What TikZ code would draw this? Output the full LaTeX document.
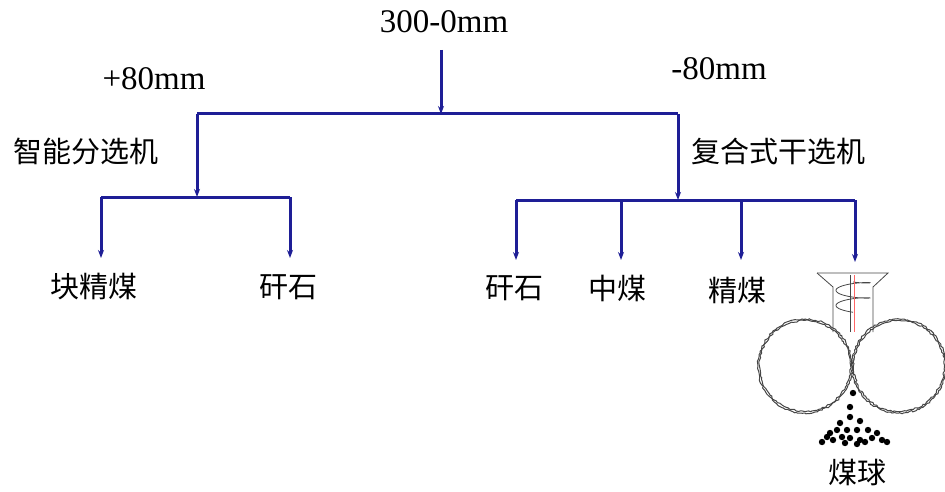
\documentclass[tikz,border=0pt]{standalone}
\usepackage{fontspec}
\setmainfont{Liberation Serif}
\newfontfamily\cjk{Noto Sans CJK SC}
\usetikzlibrary{arrows.meta,decorations.pathmorphing}
\definecolor{flowblue}{RGB}{30,30,150}
\definecolor{rollgray}{RGB}{70,70,70}

\begin{document}
\begin{tikzpicture}[x=1pt,y=-1pt,
    flow/.style={draw=flowblue,line width=3pt},
    feed/.style={flow,-{Stealth[length=8pt,width=6pt]}},
    size/.style={font=\fontsize{33}{34}\selectfont},
    lbl/.style={font=\cjk\fontsize{29}{30}\selectfont},
    roller/.style={draw=rollgray,line width=1pt,decorate,
      decoration={random steps,segment length=2.2pt,amplitude=0.9pt}},
    pellet/.style={fill=black}]
  \useasboundingbox (0,0) rectangle (945,492);

  \node[size] (feedsize) at (444,22) {300-0mm};
  \node[size] (coarse) at (154,79) {+80mm};
  \node[size] (fine) at (719,69) {-80mm};
  \node[lbl] (smart) at (86,151) {智能分选机};
  \node[lbl] (dry) at (778,151) {复合式干选机};

  \coordinate (top) at (441,50);
  \coordinate (split) at (441,114);
  \coordinate (lj) at (197,114);
  \coordinate (rj) at (678,114);
  \coordinate (lsplit) at (197,197);
  \coordinate (rsplit) at (678,200);

  \draw[feed] (top) -- (split);
  \draw[flow] (lj) -- (rj);
  \draw[feed] (lj) -- (lsplit);
  \draw[feed] (rj) -- (rsplit);

  \coordinate (l1) at (101,197);
  \coordinate (l2) at (290,197);
  \draw[flow] (l1) -- (l2);
  \coordinate (r1) at (516,200);
  \coordinate (r2) at (621,200);
  \coordinate (r3) at (741,200);
  \coordinate (r4) at (855,200);
  \draw[flow] (r1) -- (r4);

  \node[lbl] (lump) at (94,287) {块精煤};
  \node[lbl] (gangueA) at (288,287) {矸石};
  \node[lbl] (gangueB) at (514,288) {矸石};
  \node[lbl] (middling) at (617,288) {中煤};
  \node[lbl] (clean) at (737,290) {精煤};
  \node[lbl] (briq) at (857,472) {煤球};

  \coordinate (a1) at (101,258);
  \coordinate (a2) at (290,258);
  \coordinate (b1) at (516,260);
  \coordinate (b2) at (621,260);
  \coordinate (b3) at (741,260);
  \coordinate (b4) at (855,262);
  \draw[feed] (l1) -- (a1);
  \draw[feed] (l2) -- (a2);
  \draw[feed] (r1) -- (b1);
  \draw[feed] (r2) -- (b2);
  \draw[feed] (r3) -- (b3);
  \draw[feed] (r4) -- (b4);

  % hopper with screw feeder
  \draw[rollgray,line width=0.8pt] (817,273) -- (888,273) -- (873,287) -- (873,332);
  \draw[rollgray,line width=0.8pt] (817,273) -- (833,287) -- (833,332);
  \draw[rollgray,line width=0.8pt] plot[domain=0:720,samples=80]
    ({853+17*sin(\x)},{279+0.042*\x+3*cos(\x)});
  \draw[rollgray,line width=0.8pt] (850,275) -- (850,332);
  \draw[red!60,line width=1pt] (854,275) -- (854,332);

  % press rollers
  \draw[roller] (805,366) circle (47);
  \draw[roller] (805,366) circle (45.5);
  \draw[roller] (899,366) circle (47);
  \draw[roller] (899,366) circle (45.5);

  % briquettes
  \foreach \px/\py in {853/393,850/407,850/417,860/421,840/423,837/430,847/430,
      857/430,868/430,877/433,830/433,822/442,833/440,842/437,850/438,860/440,
      872/438,882/440,887/442,857/444,865/442,845/443,827/437}
    \fill[pellet] (\px,\py) circle (3.2);
\end{tikzpicture}
\end{document}
